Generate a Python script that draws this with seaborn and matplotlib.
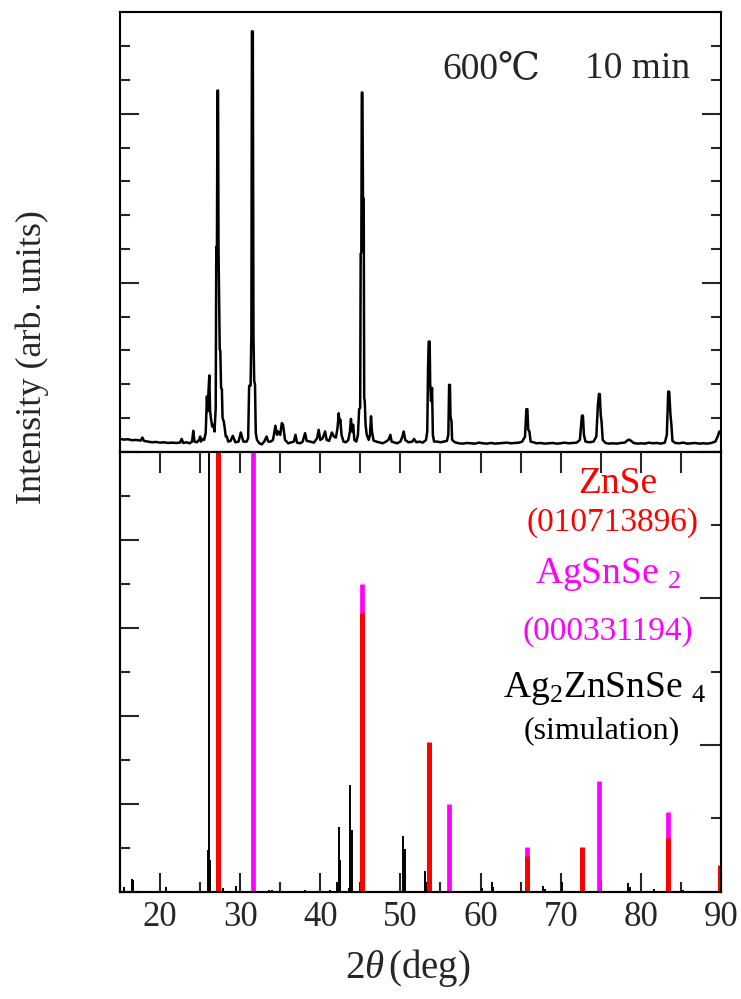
import matplotlib
matplotlib.use("Agg")
import matplotlib.pyplot as plt
from matplotlib.ticker import MultipleLocator, NullFormatter, NullLocator
import seaborn as sns
import pandas as pd

# ---- measured XRD pattern (600 C, 10 min) ----
two_theta = [
    15.0, 15.5, 16.0, 16.5, 17.0, 17.6, 17.8, 18.0, 18.5, 19.0, 19.5, 20.0, 20.5, 21.0,
    21.5, 22.0, 22.5, 22.7, 22.9, 23.3, 23.7, 24.0, 24.15, 24.3, 24.6, 24.9, 25.0, 25.1,
    25.3, 25.5, 25.7, 25.85, 25.95, 26.05, 26.15, 26.25, 26.35, 26.5, 26.65, 26.8, 26.95,
    27.02, 27.1, 27.17, 27.24, 27.3, 27.45, 27.52, 27.62, 27.72, 27.8, 27.95, 28.05, 28.2,
    28.35, 28.5, 28.8, 29.08, 29.4, 29.8, 30.08, 30.4, 30.8, 31.0, 31.12, 31.3, 31.4,
    31.47, 31.58, 31.66, 31.75, 31.85, 31.95, 32.1, 32.4, 32.7, 33.0, 33.3, 33.5, 33.8,
    34.1, 34.4, 34.6, 34.75, 35.0, 35.2, 35.35, 35.6, 36.0, 36.4, 36.7, 36.9, 37.1, 37.5,
    37.8, 38.1, 38.3, 38.75, 39.2, 39.6, 39.8, 40.0, 40.3, 40.6, 40.8, 41.1, 41.45, 41.7,
    41.95, 42.15, 42.3, 42.4, 42.5, 42.65, 42.9, 43.2, 43.5, 43.7, 43.83, 43.95, 44.1,
    44.25, 44.5, 44.7, 44.85, 44.98, 45.04, 45.12, 45.18, 45.26, 45.33, 45.42, 45.48,
    45.55, 45.65, 45.8, 46.05, 46.2, 46.33, 46.45, 46.65, 47.0, 47.3, 47.8, 48.2, 48.5,
    48.75, 48.9, 49.3, 49.6, 50.0, 50.25, 50.42, 50.6, 51.0, 51.5, 51.7, 52.0, 52.4, 52.8,
    53.2, 53.35, 53.45, 53.53, 53.65, 53.72, 53.82, 53.95, 54.05, 54.2, 54.6, 55.0, 55.4,
    55.8, 55.98, 56.08, 56.18, 56.25, 56.38, 56.45, 56.8, 57.3, 57.8, 58.3, 58.8, 59.3,
    59.8, 60.3, 60.8, 61.3, 61.8, 62.3, 62.8, 63.3, 63.8, 64.3, 64.8, 65.2, 65.55, 65.72,
    65.85, 65.95, 66.1, 66.25, 66.6, 67.0, 67.5, 68.0, 68.5, 69.0, 69.5, 70.0, 70.5, 71.0,
    71.5, 72.0, 72.4, 72.65, 72.78, 72.9, 73.1, 73.6, 74.1, 74.45, 74.65, 74.78, 74.88,
    75.0, 75.1, 75.25, 75.6, 76.0, 76.5, 77.0, 77.5, 78.0, 78.3, 78.55, 78.8, 79.1, 79.6,
    80.0, 80.5, 81.0, 81.5, 82.0, 82.5, 83.0, 83.25, 83.42, 83.55, 83.7, 83.82, 83.95,
    84.3, 84.8, 85.3, 85.8, 86.3, 86.8, 87.3, 87.8, 88.3, 88.8, 89.3, 89.6, 89.8, 90.0,
]
counts = [
    0.38, 0.36, 0.37, 0.34, 0.35, 0.33, 0.42, 0.32, 0.30, 0.28, 0.29, 0.27, 0.28, 0.26,
    0.27, 0.26, 0.27, 0.38, 0.26, 0.28, 0.25, 0.30, 0.62, 0.30, 0.28, 0.36, 0.45, 0.30,
    0.38, 0.35, 0.55, 1.64, 1.20, 1.80, 2.26, 1.20, 1.00, 0.75, 0.80, 0.60, 1.30,
    6.06, 6.00, 10.69, 10.69, 6.00, 3.02, 3.00, 1.89, 1.85, 1.00, 0.90, 0.75, 0.45,
    0.45, 0.30, 0.32, 0.47, 0.28, 0.30, 0.57, 0.30, 0.30, 0.40, 1.95, 1.96, 3.50,
    12.44, 12.44, 3.50, 2.10, 2.00, 0.56, 0.35, 0.25, 0.22, 0.30, 0.45, 0.30, 0.30,
    0.35, 0.77, 0.50, 0.60, 0.50, 0.85, 0.80, 0.35, 0.25, 0.28, 0.30, 0.50, 0.27, 0.25,
    0.30, 0.55, 0.32, 0.30, 0.27, 0.40, 0.65, 0.35, 0.40, 0.60, 0.35, 0.32, 0.57, 0.45,
    0.42, 0.70, 1.14, 0.85, 0.95, 0.50, 0.30, 0.28, 0.35, 0.60, 0.97, 0.60, 0.80,
    0.35, 0.30, 0.50, 1.26, 1.30, 5.86, 5.90, 10.63, 10.63, 7.49, 7.49, 1.60,
    1.49, 0.80, 0.50, 0.35, 0.50, 1.05, 0.60, 0.33, 0.30, 0.28, 0.25, 0.30, 0.35,
    0.50, 0.30, 0.27, 0.25, 0.30, 0.45, 0.60, 0.35, 0.28, 0.30, 0.38, 0.28, 0.30, 0.27,
    0.35, 0.60, 2.50, 3.26, 3.26, 2.00, 1.50, 1.89, 0.50, 0.30, 0.30, 0.28, 0.30,
    0.32, 0.50, 1.98, 1.98, 1.05, 0.90, 0.35, 0.28, 0.25, 0.24, 0.26, 0.25, 0.24,
    0.27, 0.25, 0.24, 0.26, 0.24, 0.25, 0.26, 0.27, 0.25, 0.26, 0.27, 0.30, 0.45, 1.26,
    1.26, 0.65, 0.60, 0.30, 0.28, 0.25, 0.26, 0.24, 0.25, 0.26, 0.24, 0.25, 0.27, 0.25,
    0.26, 0.27, 0.35, 1.07, 1.07, 0.50, 0.30, 0.28, 0.30, 0.45, 1.40, 1.71, 1.71,
    1.09, 0.90, 0.35, 0.26, 0.24, 0.25, 0.24, 0.26, 0.27, 0.33, 0.36, 0.32, 0.26, 0.24,
    0.25, 0.24, 0.27, 0.25, 0.26, 0.24, 0.27, 0.50, 1.78, 1.78, 1.10, 0.80, 0.32,
    0.26, 0.25, 0.27, 0.24, 0.25, 0.26, 0.24, 0.25, 0.24, 0.26, 0.30, 0.45, 0.60, 0.55,
]

# ---- reference stick patterns (relative intensity, %) ----
znse_pos = [27.2, 45.2, 53.6, 65.8, 72.7, 83.4, 89.9]
znse_int = [100, 63.3, 34.0, 8.2, 10.2, 12.2, 6.0]

agsnse2_pos = [31.55, 45.2, 56.1, 65.8, 74.8, 83.4]
agsnse2_int = [100, 70.0, 20.0, 10.2, 25.1, 18.1]

sim_pos = [15.5, 16.5, 16.6, 20.7, 25.95, 26.1, 26.25, 27.9, 29.5, 31.6, 33.6, 34.0,
           38.1, 41.2, 42.1, 42.3, 42.5, 43.55, 43.75, 43.95, 45.05, 50.35, 50.6,
           53.05, 53.3, 60.2, 61.4, 61.6, 66.1, 67.8, 68.0, 70.2, 78.4, 78.7, 81.6,
           83.5, 85.3]
sim_int = [1.0, 3.0, 2.6, 1.0, 9.5, 100, 7.3, 0.8, 1.4, 0.4, 0.5, 0.5,
           0.4, 0.5, 2.3, 14.7, 7.3, 0.8, 24.3, 14.1, 1.2, 12.7, 9.7,
           4.8, 2.3, 0.8, 2.3, 1.0, 0.5, 1.2, 0.7, 2.2, 2.0, 1.0, 0.7,
           0.5, 0.5]

xticks = [20, 30, 40, 50, 60, 70, 80, 90]

sns.set_style("ticks")
SERIF = ["Liberation Serif", "DejaVu Serif"]
plt.rcParams["font.family"] = SERIF
plt.rcParams["mathtext.fontset"] = "custom"
plt.rcParams["mathtext.rm"] = "Liberation Serif"
plt.rcParams["mathtext.it"] = "Liberation Serif:italic"
plt.rcParams["axes.linewidth"] = 1.5

RED = "#ff0000"
MAGENTA = "#ff00ff"

fig = plt.figure(figsize=(7.41, 9.99), dpi=100)
ax_top = fig.add_axes([0.1619, 0.5478, 0.811, 0.4404])
ax_bot = fig.add_axes([0.1619, 0.1074, 0.811, 0.4404])

# upper panel: measured pattern
df = pd.DataFrame({"two_theta": two_theta, "intensity": counts})
sns.lineplot(data=df, x="two_theta", y="intensity", ax=ax_top, color="black",
             lw=1.8, estimator=None, sort=False)
ax_top.set_xlim(15, 90)
ax_top.set_ylim(0, 13.02)
ax_top.xaxis.set_major_locator(NullLocator())
ax_top.yaxis.set_major_locator(MultipleLocator(5))
ax_top.yaxis.set_minor_locator(MultipleLocator(1))
ax_top.yaxis.set_major_formatter(NullFormatter())
ax_top.tick_params(axis="y", which="both", direction="in", left=True, right=True,
                   labelleft=False, width=1.5)
ax_top.tick_params(axis="y", which="major", length=14)
ax_top.tick_params(axis="y", which="minor", length=7.5)
ax_top.set_xlabel("")
ax_top.set_ylabel("")

# lower panel: stick patterns
ax_bot.vlines(sim_pos, 0, sim_int, color="black", lw=1.4, zorder=2)
ax_bot.vlines(agsnse2_pos, 0, agsnse2_int, color=MAGENTA, lw=3.4, zorder=3)
ax_bot.vlines(znse_pos, 0, znse_int, color=RED, lw=3.6, zorder=4)
ax_bot.set_xlim(15, 90)
ax_bot.set_ylim(0, 100)
ax_bot.set_xticks(xticks)
ax_bot.set_xticklabels([str(t) for t in xticks])
ax_bot.xaxis.set_minor_locator(MultipleLocator(5))
ax_bot.tick_params(axis="x", which="both", direction="in", bottom=True, top=False,
                   width=1.5, labelsize=25, pad=7)
ax_bot.tick_params(axis="x", which="major", length=14)
ax_bot.tick_params(axis="x", which="minor", length=7)
ax_bot.yaxis.set_major_locator(MultipleLocator(20))
ax_bot.yaxis.set_minor_locator(MultipleLocator(10))
ax_bot.tick_params(axis="y", which="both", direction="in", left=True, right=False,
                   labelleft=False, width=1.5)
ax_bot.tick_params(axis="y", which="major", length=14)
ax_bot.tick_params(axis="y", which="minor", length=7.5)

top_sec = ax_bot.secondary_xaxis("top")
top_sec.set_xticks([20, 25, 30, 35, 40, 45, 50, 55, 60, 65, 70, 75, 80, 85])
top_sec.tick_params(axis="x", direction="in", length=15, width=1.5, labeltop=False)
top_sec.spines["top"].set_visible(False)

right_sec = ax_bot.twinx()
right_sec.set_ylim(0, 6)
right_sec.yaxis.set_major_locator(MultipleLocator(2))
right_sec.yaxis.set_minor_locator(MultipleLocator(1))
right_sec.yaxis.set_major_formatter(NullFormatter())
right_sec.tick_params(axis="y", which="both", direction="in", width=1.5, labelright=False)
right_sec.tick_params(axis="y", which="major", length=15)
right_sec.tick_params(axis="y", which="minor", length=7.5)

for a in (ax_top, ax_bot, right_sec):
    for s in a.spines.values():
        s.set_linewidth(1.5)
        s.set_color("black")

def fx(px):
    return px / 741.0

def fy(py):
    return 1.0 - py / 999.0

# annotations
fig.text(fx(442), fy(78), "600℃", fontsize=27, ha="left", va="baseline", family=SERIF)
fig.text(fx(585), fy(78), "10 min", fontsize=27, ha="left", va="baseline", family=SERIF)

fig.text(fx(618), fy(493), "ZnSe", color=RED, fontsize=27, ha="center", va="baseline")
fig.text(fx(613), fy(531), "(010713896)", color=RED, fontsize=24, ha="center", va="baseline")
fig.text(fx(608), fy(583), r"AgSnSe$\ _{2}$", color=MAGENTA, fontsize=27,
         ha="center", va="baseline")
fig.text(fx(608), fy(640), "(000331194)", color=MAGENTA, fontsize=24, ha="center",
         va="baseline")
fig.text(fx(605), fy(697), r"Ag$_{2}$ZnSnSe$\ _{4}$", color="black", fontsize=27,
         ha="center", va="baseline")
fig.text(fx(602), fy(738), "(simulation)", color="black", fontsize=23, ha="center",
         va="baseline")

fig.text(fx(32), fy(357), "Intensity (arb. units)", fontsize=26, rotation=90,
         ha="center", va="center")
fig.text(fx(408), fy(968), r"2$\it{\theta}\,$(deg)", fontsize=28, ha="center", va="center")

fig.savefig("out.png", dpi=100)
